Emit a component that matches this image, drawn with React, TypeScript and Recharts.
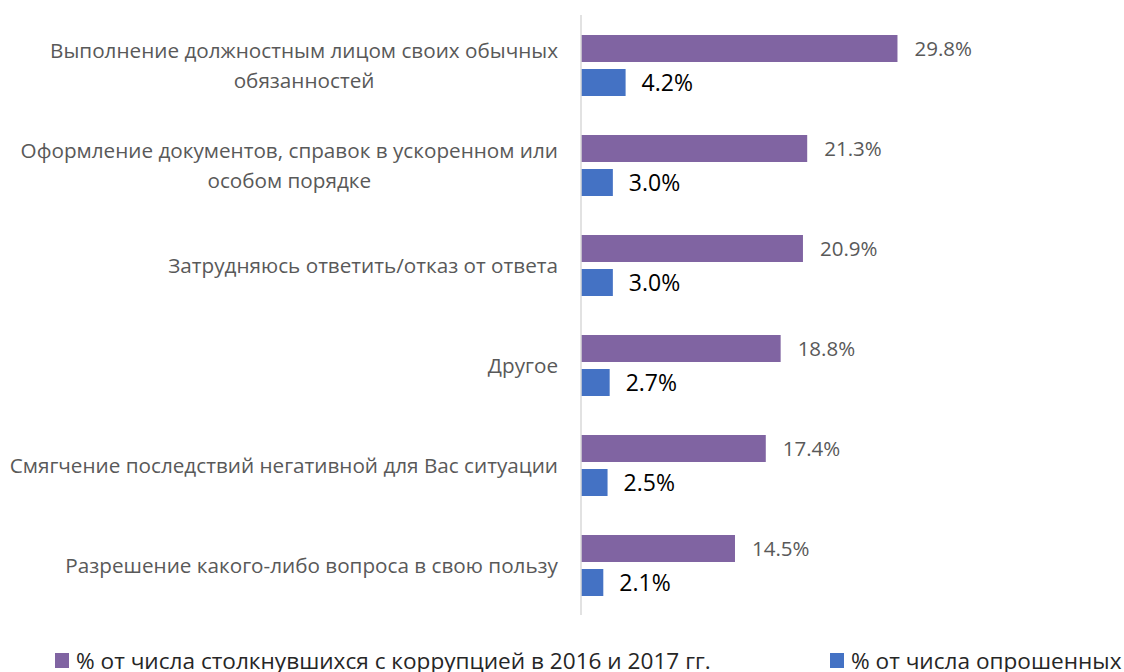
import { Bar, BarChart, LabelList, XAxis, YAxis } from "recharts";

const categories = [
  "Выполнение должностным лицом своих обычных обязанностей",
  "Оформление документов, справок в ускоренном или особом порядке",
  "Затрудняюсь ответить/отказ от ответа",
  "Другое",
  "Смягчение последствий негативной для Вас ситуации",
  "Разрешение какого-либо вопроса в свою пользу",
];
const corruptionShare = [29.8, 21.3, 20.9, 18.8, 17.4, 14.5];
const respondentShare = [4.2, 3.0, 3.0, 2.7, 2.5, 2.1];
const seriesNames = [
  "% от числа столкнувшихся с коррупцией в 2016 и 2017 гг.",
  "% от числа опрошенных",
];
const seriesColors = ["#8064A2", "#4472C4"];

const data = categories.map((name, i) => ({
  name,
  corruption: corruptionShare[i],
  respondents: respondentShare[i],
}));

const FONT = '"Open Sans", "DejaVu Sans", sans-serif';
const LABEL_SIZE = 20.7;
const MAX_LABEL_WIDTH = 552;

let ctx: CanvasRenderingContext2D | null = null;
const measure = (s: string) => {
  if (!ctx) ctx = document.createElement("canvas").getContext("2d");
  if (!ctx) return s.length * LABEL_SIZE * 0.58;
  ctx.font = `${LABEL_SIZE}px ${FONT}`;
  return ctx.measureText(s).width;
};

const wrap = (text: string, maxWidth: number) => {
  const lines: string[] = [];
  let current = "";
  text.split(" ").forEach((word) => {
    const next = current ? `${current} ${word}` : word;
    if (current && measure(next) > maxWidth) {
      lines.push(current);
      current = word;
    } else {
      current = next;
    }
  });
  if (current) lines.push(current);
  return lines;
};

const CategoryTick = (props: any) => {
  const { x, y, payload } = props;
  const lines = wrap(payload.value, MAX_LABEL_WIDTH);
  const blockWidth = Math.max(...lines.map(measure));
  const right = x - 23;
  const lineHeight = 30;
  const top = y - ((lines.length - 1) * lineHeight) / 2;
  return (
    <g>
      {lines.map((line, i) => (
        <text
          key={i}
          x={lines.length > 1 ? right - blockWidth / 2 : right}
          y={top + i * lineHeight}
          textAnchor={lines.length > 1 ? "middle" : "end"}
          dominantBaseline="central"
          fontFamily={FONT}
          fontSize={LABEL_SIZE}
          fill="#595959"
        >
          {line}
        </text>
      ))}
    </g>
  );
};

const formatPercent = (v: any) => `${Number(v).toFixed(1)}%`;

export default function App() {
  return (
    <div
      style={{
        position: "absolute",
        left: 0,
        top: 0,
        width: 1124,
        height: 672,
        overflow: "hidden",
        background: "#fff",
        fontFamily: FONT,
      }}
    >
      <BarChart
        width={1124}
        height={672}
        data={data}
        layout="vertical"
        margin={{ top: 15, right: 12, bottom: 57, left: 0 }}
        barCategoryGap="20%"
        barGap={7}
      >
        <XAxis type="number" domain={[0, 50]} hide />
        <YAxis
          type="category"
          dataKey="name"
          width={581}
          tick={<CategoryTick />}
          tickLine={false}
          tickSize={0}
          tickMargin={0}
          axisLine={{ stroke: "#D9D9D9", strokeWidth: 1.5 }}
          interval={0}
        />
        <Bar
          dataKey="corruption"
          name={seriesNames[0]}
          fill={seriesColors[0]}
          isAnimationActive={false}
        >
          <LabelList
            dataKey="corruption"
            position="right"
            offset={17}
            formatter={formatPercent}
            fill="#595959"
            fontSize={20.5}
            fontFamily={FONT}
          />
        </Bar>
        <Bar
          dataKey="respondents"
          name={seriesNames[1]}
          fill={seriesColors[1]}
          isAnimationActive={false}
        >
          <LabelList
            dataKey="respondents"
            position="right"
            offset={16}
            formatter={formatPercent}
            fill="#000000"
            fontSize={23}
            fontFamily={FONT}
          />
        </Bar>
      </BarChart>
      <svg
        width={1124}
        height={32}
        style={{ position: "absolute", left: 0, top: 640 }}
      >
        {seriesNames.map((name, i) => {
          const x0 = i === 0 ? 55 : 830;
          return (
            <g key={name}>
              <rect x={x0} y={13} width={14} height={15} fill={seriesColors[i]} />
              <text
                x={x0 + 21}
                y={29}
                fontFamily={FONT}
                fontSize={22.6}
                fill="#262626"
              >
                {name}
              </text>
            </g>
          );
        })}
      </svg>
    </div>
  );
}
